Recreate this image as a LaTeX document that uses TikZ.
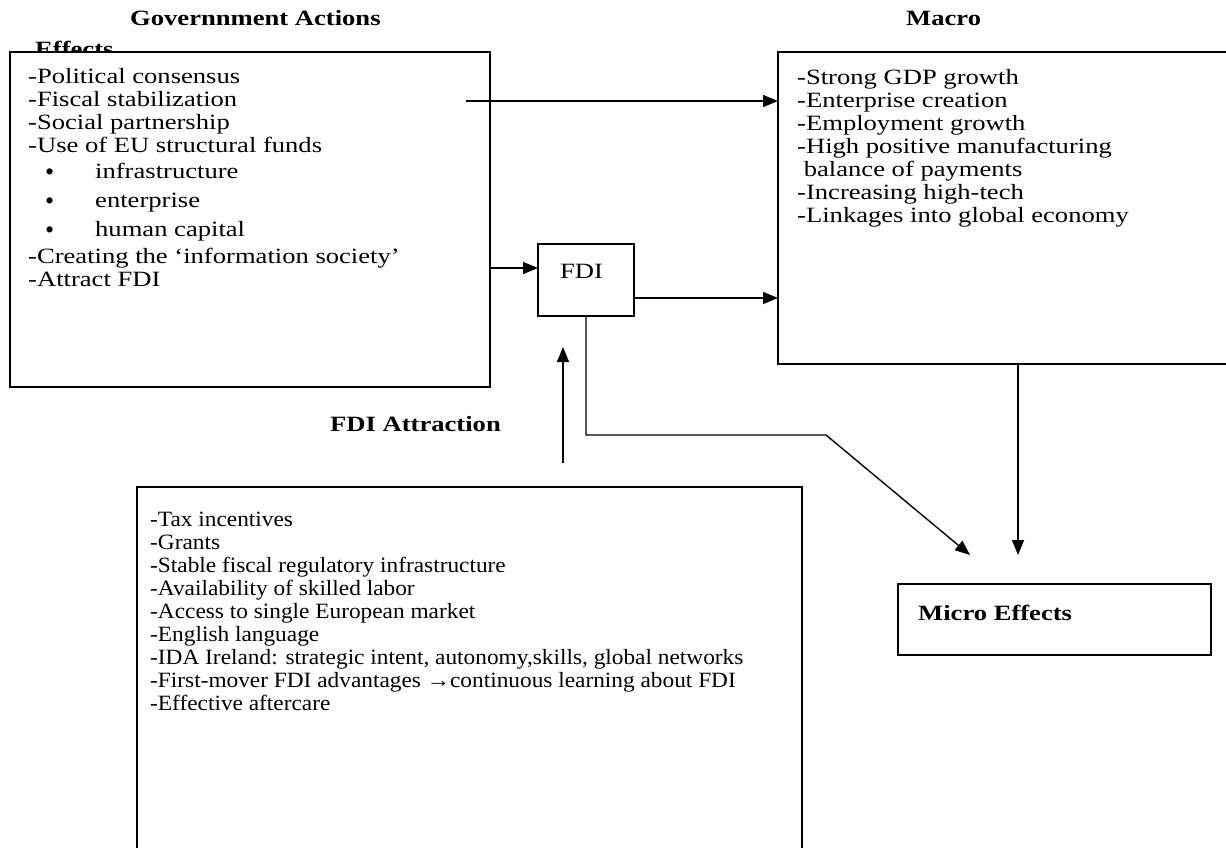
\documentclass[tikz,border=0pt]{standalone}
\usepackage{fontspec}
\setmainfont{Liberation Serif}[FakeStretch=1.22]
\newfontfamily\condfont{Liberation Serif}[FakeStretch=1.07]
\newfontfamily\plainfont{Liberation Serif}
\usetikzlibrary{arrows.meta}
\begin{document}
\begin{tikzpicture}[x=1pt,y=-1pt,
  txt/.style={anchor=base west,inner sep=0pt,font=\fontsize{21.8}{23}\selectfont},
  ctxt/.style={anchor=base west,inner sep=0pt,font=\fontsize{21.8}{23}\selectfont\condfont},
  bul/.style={anchor=base west,inner sep=0pt,font=\fontsize{26}{26}\selectfont\plainfont},
  ttl/.style={anchor=base west,inner sep=0pt,font=\fontsize{21.8}{23}\selectfont\bfseries},
  boxx/.style={draw=black,line width=1.4pt,fill=white,anchor=north west,inner sep=0pt,outer sep=0pt},
  arr/.style={line width=1.4pt,-{Triangle[length=15pt,width=12pt]}}]
\useasboundingbox (0,0) rectangle (1226,847);
\clip (0,0) rectangle (1226,847);
\fill[white] (0,0) rectangle (1226,847);
% titles
\node[ttl] (tgov) at (130,25) {Governnment Actions};
\node[ttl] (teff) at (35,56) {Effects};
\node[ttl] (tmac) at (906,25) {Macro};
% boxes
\node[boxx,minimum width=480pt,minimum height=335pt] (gov) at (10,52) {};
\node[boxx,minimum width=462pt,minimum height=312pt] (mac) at (778,52) {};
\node[boxx,minimum width=96pt,minimum height=72pt] (fdibox) at (538,244) {};
\node[boxx,minimum width=665pt,minimum height=383pt] (att) at (137,487) {};
\node[boxx,minimum width=313pt,minimum height=71pt] (mic) at (898,584) {};
% government text
\foreach \yy/\tt [count=\i] in {83/{-Political consensus},106/{-Fiscal stabilization},129/{-Social partnership},152/{-Use of EU structural funds},263/{-Creating the ‘information society’},286/{-Attract FDI}}
  \node[txt] (g\i) at (28,\yy) {\tt};
\foreach \yy/\tt [count=\i] in {178/infrastructure,207/enterprise,236/{human capital}}{
  \node[bul] (bd\i) at (45,\yy+2) {•};
  \node[txt] (bt\i) at (95,\yy) {\tt};}
% macro text
\foreach \yy/\tt [count=\i] in {84/{-Strong GDP growth},107/{-Enterprise creation},130/{-Employment growth},153/{-High positive manufacturing},176/{\ balance of payments},199/{-Increasing high-tech},222/{-Linkages into global economy}}
  \node[txt] (m\i) at (797,\yy) {\tt};
% FDI
\node[txt] (fdi) at (560,278) {FDI};
% FDI attraction
\node[ttl] (tatt) at (330,431) {FDI Attraction};
\foreach \yy/\tt [count=\i] in {526/{-Tax incentives},549/{-Grants},572/{-Stable fiscal regulatory infrastructure},595/{-Availability of skilled labor},618/{-Access to single European market},641/{-English language},664/{-IDA Ireland: strategic intent, autonomy,skills, global networks},687/{-First-mover FDI advantages →continuous learning about FDI},710/{-Effective aftercare}}
  \node[ctxt] (a\i) at (150,\yy) {\tt};
% micro
\node[ttl] (tmic) at (918,620) {Micro Effects};
% connectors
\coordinate (c1s) at (466,101);
\draw[arr] (c1s) -- (c1s -| mac.west);
\draw[arr] (gov.east |- 0,268) -- (fdibox.west |- 0,268);
\draw[arr] (fdibox.east |- 0,298) -- (mac.west |- 0,298);
\coordinate (c4e) at (1018,555);
\draw[arr] (c4e |- mac.south) -- (c4e);
\coordinate (c5a) at (586,435);
\coordinate (c5b) at (826,435);
\coordinate (c5e) at (970,555);
\draw[arr] (c5a |- fdibox.south) -- (c5a) -- (c5b) -- (c5e);
\coordinate (c6s) at (563,463);
\coordinate (c6e) at (563,347);
\draw[arr] (c6s) -- (c6e);
\end{tikzpicture}
\end{document}
